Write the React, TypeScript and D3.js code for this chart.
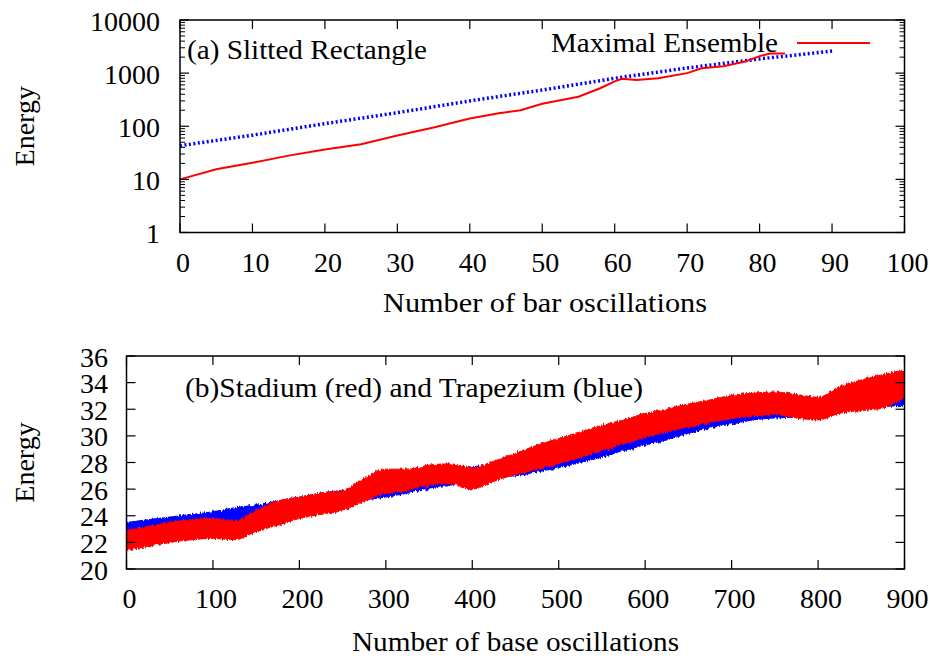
import React from 'react';
import * as d3 from 'd3';

// ---------- Panel (a) data ----------
const redTopX = [0, 5, 10, 15, 20, 25, 30, 35, 40, 44, 47, 50, 55, 58, 60, 61, 63, 66, 70, 72, 75, 78, 80, 81.5, 83.5];
const redTopE = [10, 15.5, 20.5, 28, 36.5, 46, 67, 95, 140, 175, 200, 265, 360, 520, 700, 780, 740, 800, 1000, 1230, 1350, 1650, 2090, 2350, 2350];
const blueTopX = [0, 10, 20, 30, 40, 50, 60, 70, 80, 90];
const blueTopE = [43, 68, 112, 180, 300, 480, 800, 1250, 1850, 2600];
const topXTicks = [0, 10, 20, 30, 40, 50, 60, 70, 80, 90, 100];
const topYTicks = [1, 10, 100, 1000, 10000];

// ---------- Panel (b) data ----------
const botX = [0, 25, 50, 75, 100, 125, 150, 175, 200, 225, 250, 275, 300, 325, 350, 375, 400, 425, 450, 475, 500, 525, 550, 575, 600, 625, 650, 675, 700, 725, 750, 775, 800, 825, 850, 875, 900];
const redHi = [22.9, 23.2, 23.5, 23.7, 23.8, 23.6, 24.4, 25.1, 25.4, 25.7, 25.9, 26.8, 27.5, 27.5, 27.8, 27.9, 27.6, 28.1, 28.7, 29.3, 29.8, 30.3, 30.8, 31.2, 31.7, 32.0, 32.4, 32.7, 33.05, 33.2, 33.3, 33.1, 32.9, 33.7, 34.2, 34.6, 34.95];
const redLo = [21.4, 21.7, 22.0, 22.2, 22.3, 22.2, 22.8, 23.3, 23.8, 24.1, 24.4, 25.1, 25.7, 25.9, 26.3, 26.4, 26.0, 26.6, 27.1, 27.5, 27.9, 28.4, 28.9, 29.4, 29.9, 30.3, 30.7, 31.0, 31.3, 31.5, 31.6, 31.35, 31.2, 31.7, 31.9, 32.1, 32.9];
const blueHi = [23.5, 23.7, 23.9, 24.1, 24.3, 24.6, 24.8, 25.1, 25.4, 25.7, 25.9, 26.0, 26.3, 26.5, 26.8, 27.2, 27.7, 27.8, 28.0, 28.2, 28.5, 28.9, 29.3, 29.8, 30.2, 30.6, 31.1, 31.5, 31.8, 32.1, 32.2, 32.3, 32.4, 33.3, 33.6, 33.4, 33.2];
const blueLo = [22.6, 22.8, 23.0, 23.2, 23.4, 23.5, 23.8, 24.2, 24.5, 24.8, 25.0, 25.2, 25.4, 25.7, 26.0, 26.3, 26.7, 26.9, 27.0, 27.3, 27.6, 28.0, 28.4, 28.9, 29.3, 29.7, 30.2, 30.6, 30.9, 31.2, 31.35, 31.4, 31.5, 31.9, 32.1, 32.2, 32.3];
const botXTicks = [0, 100, 200, 300, 400, 500, 600, 700, 800, 900];
const botYTicks = [20, 22, 24, 26, 28, 30, 32, 34, 36];

const FONT = "'Liberation Serif', 'Times New Roman', Times, serif";

export default function App() {
  const xa = d3.scaleLinear().domain([0, 100]).range([180, 904.5]);
  const ya = d3.scaleLog().domain([1, 10000]).range([232.5, 20]);
  const xb = d3.scaleLinear().domain([0, 900]).range([126.5, 904.5]);
  const yb = d3.scaleLinear().domain([20, 36]).range([569, 356]);

  const minorA: number[] = [];
  [1, 10, 100, 1000].forEach((d) => {
    for (let m = 2; m <= 9; m++) minorA.push(d * m);
  });

  const redLine = d3.line<number>().x((_, i) => xa(redTopX[i])).y((d) => ya(d));
  const blueLine = d3.line<number>().x((_, i) => xa(blueTopX[i])).y((d) => ya(d));

  const redArea = d3.area<number>().x((d) => xb(d)).y0((_, i) => yb(redLo[i])).y1((_, i) => yb(redHi[i])).curve(d3.curveMonotoneX);
  const blueArea = d3.area<number>().x((d) => xb(d)).y0((_, i) => yb(blueLo[i])).y1((_, i) => yb(blueHi[i])).curve(d3.curveMonotoneX);

  const [ax0, ax1] = xa.range();
  const ay1 = ya(1), ay0 = ya(10000);
  const [bx0, bx1] = xb.range();
  const by1 = yb(20), by0 = yb(36);
  const TL = 9, TM = 5;
  const FS = 28;

  return (
    <svg width={936} height={661} style={{ position: 'absolute', left: 0, top: 0, background: '#fff', fontFamily: FONT }}>
      <defs>
        <filter id="jag" x="-2%" y="-10%" width="104%" height="120%">
          <feTurbulence type="fractalNoise" baseFrequency="0.6 0.05" numOctaves={2} seed={3} result="n" />
          <feDisplacementMap in="SourceGraphic" in2="n" scale={5} xChannelSelector="R" yChannelSelector="G" />
        </filter>
        <clipPath id="clipB">
          <rect x={bx0} y={by0} width={bx1 - bx0} height={by1 - by0} />
        </clipPath>
      </defs>
      <rect x={0} y={0} width={936} height={661} fill="#fff" />
      {/* ===== Panel (a) ===== */}
      <g>
        <path d={blueLine(blueTopE) || ''} fill="none" stroke="#0000ff" strokeWidth={3.5} strokeDasharray="2 2.5" />
        <path d={redLine(redTopE) || ''} fill="none" stroke="#ff0000" strokeWidth={2} />
        <rect x={ax0} y={ay0} width={ax1 - ax0} height={ay1 - ay0} fill="none" stroke="#000" strokeWidth={1.5} />
        {topXTicks.map((t) => (
          <g key={'xa' + t}>
            <line x1={xa(t)} x2={xa(t)} y1={ay1} y2={ay1 - TL} stroke="#000" strokeWidth={1.2} />
            <line x1={xa(t)} x2={xa(t)} y1={ay0} y2={ay0 + TL} stroke="#000" strokeWidth={1.2} />
            <text x={xa(t) + 3} y={271.5} textAnchor="middle" fontSize={FS}>{t}</text>
          </g>
        ))}
        {topYTicks.map((t) => (
          <g key={'ya' + t}>
            <line x1={ax0} x2={ax0 + TL} y1={ya(t)} y2={ya(t)} stroke="#000" strokeWidth={1.2} />
            <line x1={ax1} x2={ax1 - TL} y1={ya(t)} y2={ya(t)} stroke="#000" strokeWidth={1.2} />
            <text x={ax0 - 20} y={ya(t) + 10.5} textAnchor="end" fontSize={FS}>{t}</text>
          </g>
        ))}
        {minorA.map((t) => (
          <g key={'ma' + t}>
            <line x1={ax0} x2={ax0 + TM} y1={ya(t)} y2={ya(t)} stroke="#000" strokeWidth={1} />
            <line x1={ax1} x2={ax1 - TM} y1={ya(t)} y2={ya(t)} stroke="#000" strokeWidth={1} />
          </g>
        ))}
        <text x={187} y={59} fontSize={FS} textLength={240} lengthAdjust="spacingAndGlyphs">(a) Slitted Rectangle</text>
        <text x={551} y={52} fontSize={FS} textLength={227} lengthAdjust="spacingAndGlyphs">Maximal Ensemble</text>
        <line x1={797} x2={870} y1={43} y2={43} stroke="#ff0000" strokeWidth={2} />
        <text transform={`translate(34,${(ay0 + ay1) / 2}) rotate(-90)`} textAnchor="middle" fontSize={FS}>Energy</text>
        <text x={383} y={312} fontSize={FS} textLength={324} lengthAdjust="spacingAndGlyphs">Number of bar oscillations</text>
      </g>

      {/* ===== Panel (b) ===== */}
      <g>
        <g clipPath="url(#clipB)">
          <g filter="url(#jag)">
            <path d={blueArea(botX) || ''} fill="#0000ff" stroke="#0000ff" strokeWidth={1} />
            <path d={redArea(botX) || ''} fill="#ff0000" stroke="#ff0000" strokeWidth={1} />
          </g>
        </g>
        <rect x={bx0} y={by0} width={bx1 - bx0} height={by1 - by0} fill="none" stroke="#000" strokeWidth={1.5} />
        {botXTicks.map((t) => (
          <g key={'xb' + t}>
            <line x1={xb(t)} x2={xb(t)} y1={by1} y2={by1 - TL} stroke="#000" strokeWidth={1.2} />
            <line x1={xb(t)} x2={xb(t)} y1={by0} y2={by0 + TL} stroke="#000" strokeWidth={1.2} />
            <text x={xb(t) + 3} y={608} textAnchor="middle" fontSize={FS}>{t}</text>
          </g>
        ))}
        {botYTicks.map((t) => (
          <g key={'yb' + t}>
            <line x1={bx0} x2={bx0 + TL} y1={yb(t)} y2={yb(t)} stroke="#000" strokeWidth={1.2} />
            <line x1={bx1} x2={bx1 - TL} y1={yb(t)} y2={yb(t)} stroke="#000" strokeWidth={1.2} />
            <text x={bx0 - 18.5} y={yb(t) + 10.5} textAnchor="end" fontSize={FS}>{t}</text>
          </g>
        ))}
        <text x={185} y={396.5} fontSize={FS} textLength={458} lengthAdjust="spacingAndGlyphs">(b)Stadium (red) and Trapezium (blue)</text>
        <text transform={`translate(34,${(by0 + by1) / 2}) rotate(-90)`} textAnchor="middle" fontSize={FS}>Energy</text>
        <text x={352} y={651} fontSize={FS} textLength={327} lengthAdjust="spacingAndGlyphs">Number of base oscillations</text>
      </g>
    </svg>
  );
}
